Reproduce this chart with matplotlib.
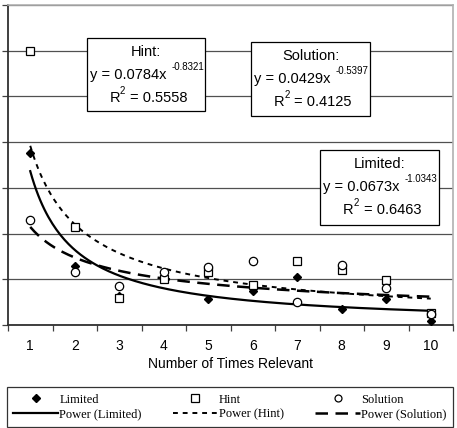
import numpy as np
import matplotlib
matplotlib.use("Agg")
import matplotlib.pyplot as plt
from matplotlib.lines import Line2D
from matplotlib.patches import Rectangle

# data
times = [1, 2, 3, 4, 5, 6, 7, 8, 9, 10]
limited = [0.0752, 0.0260, 0.0125, 0.0200, 0.0112, 0.0150, 0.0211, 0.0070, 0.0112, 0.0019]
hint = [0.1199, 0.0430, 0.0120, 0.0201, 0.0233, 0.0175, 0.0281, 0.0241, 0.0197, 0.0051]
solution = [0.0459, 0.0233, 0.0171, 0.0233, 0.0252, 0.0281, 0.0102, 0.0263, 0.0163, 0.0050]

# fitted power trendlines  y = a * x^b, with R^2
fits = {
    "Limited": (0.0673, -1.0343, 0.6463),
    "Hint": (0.0784, -0.8321, 0.5558),
    "Solution": (0.0429, -0.5397, 0.4125),
}

W, H = 457, 428
fig = plt.figure(figsize=(W / 100, H / 100), dpi=100)


def px(x, y):
    return x / W, 1 - y / H


ax = fig.add_axes([8 / W, 1 - 325 / H, 445 / W, 320 / H])
ax.set_xlim(0.5, 10.5)
ax.set_ylim(0, 0.14)

# grid
ax.set_yticks(np.arange(0, 0.141, 0.02))
ax.set_yticklabels([])
ax.yaxis.grid(True, color="#505050", lw=0.9)
ax.set_axisbelow(True)
ax.tick_params(axis="y", direction="out", length=4, width=0.9, color="#404040")

ax.set_xticks(np.arange(0.5, 10.6, 1))
ax.set_xticklabels([])
ax.set_xticks(times, minor=True)
ax.set_xticklabels([str(t) for t in times], minor=True,
                   fontsize=10, family="Liberation Sans")
ax.tick_params(axis="x", which="major", direction="out", length=4, width=0.9, color="#404040")
ax.tick_params(axis="x", which="minor", length=0, pad=10)
ax.set_xlabel("Number of Times Relevant", fontsize=10, family="Liberation Sans", labelpad=3)

for s in ["top", "right"]:
    ax.spines[s].set_color("#b0b0b0")
    ax.spines[s].set_linewidth(1.2)
for s in ["left", "bottom"]:
    ax.spines[s].set_color("#303030")
    ax.spines[s].set_linewidth(1.3)

# trendlines
xs = np.linspace(1, 10, 200)
a, b, _ = fits["Limited"]
ax.plot(xs, a * xs ** b, color="black", lw=1.6, ls="-", zorder=3)
a, b, _ = fits["Hint"]
ax.plot(xs, a * xs ** b, color="black", lw=1.4, ls=(0, (2.5, 2.5)), zorder=3)
a, b, _ = fits["Solution"]
ax.plot(xs, a * xs ** b, color="black", lw=1.8, ls=(0, (5, 3)), zorder=3)

# points
ax.plot(times, limited, ls="none", marker="D", ms=4.5, mfc="black", mec="black", zorder=4)
ax.plot(times, hint, ls="none", marker="s", ms=6, mfc="white", mec="black", mew=0.9, zorder=5)
ax.plot(times, solution, ls="none", marker="o", ms=6, mfc="white", mec="black", mew=0.9, zorder=6)


# equation boxes
def eq_box(name, x0, y0, x1, y1):
    a, b, r2 = fits[name]
    rect = Rectangle(px(x0, y1), (x1 - x0) / W, (y1 - y0) / H, transform=fig.transFigure,
                     facecolor="white", edgecolor="black", lw=0.9, zorder=10)
    fig.patches.append(rect)
    cx = (x0 + x1) / 2
    kw = dict(transform=fig.transFigure, family="Liberation Sans", zorder=11, va="center")
    fig.text(*px(cx, y0 + 14), f"{name}:", fontsize=10.5, ha="center", **kw)
    fig.text(*px(x0 + 3, y0 + 37), f"y = {a:.4f}x", fontsize=10.5, ha="left", **kw)
    fig.text(*px(x0 + 85, y0 + 29), f"{b:.4f}", fontsize=7, ha="left", **kw)
    fig.text(*px(cx - 26, y0 + 60), "R", fontsize=10.5, ha="right", **kw)
    fig.text(*px(cx - 26, y0 + 53), "2", fontsize=7, ha="left", **kw)
    fig.text(*px(cx - 16, y0 + 60), f"= {r2:.4f}", fontsize=10.5, ha="left", **kw)


eq_box("Hint", 87, 38, 205, 111)
eq_box("Solution", 251, 42, 370, 116)
eq_box("Limited", 320, 150, 439, 225)

# legend
handles = [
    Line2D([], [], ls="none", marker="D", ms=4, mfc="black", mec="black"),
    Line2D([], [], color="black", lw=1.6, ls="-"),
    Line2D([], [], ls="none", marker="s", ms=5.5, mfc="white", mec="black", mew=0.9),
    Line2D([], [], color="black", lw=1.4, ls=(0, (2.5, 2.5))),
    Line2D([], [], ls="none", marker="o", ms=5, mfc="white", mec="black", mew=0.9),
    Line2D([], [], color="black", lw=1.8, ls=(0, (5, 3))),
]
labels = ["Limited", "Power (Limited)", "Hint", "Power (Hint)", "Solution", "Power (Solution)"]
x0, y0 = px(7, 427)
x1, y1 = px(453, 385)
leg = fig.legend(handles, labels, ncol=3, loc="lower left", mode="expand",
                 bbox_to_anchor=(x0, y0, x1 - x0, y1 - y0),
                 prop={"family": "Liberation Serif", "size": 9}, frameon=True, fancybox=False,
                 edgecolor="black", handlelength=3.6, handletextpad=0.1, columnspacing=1.0,
                 labelspacing=0.25, borderpad=0.5, borderaxespad=0)
leg.get_frame().set_linewidth(0.9)

fig.savefig("out.png", dpi=100)
